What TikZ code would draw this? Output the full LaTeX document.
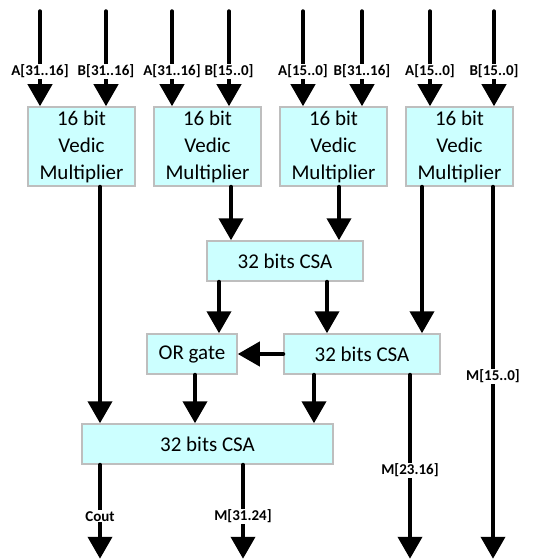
\documentclass[tikz,border=0pt]{standalone}
\usepackage{fontspec}
\setmainfont{Carlito}
\usepackage{xcolor}
\usetikzlibrary{arrows.meta}

\definecolor{boxfill}{RGB}{204,255,255}
\definecolor{boxline}{RGB}{190,190,190}

\begin{document}
\begin{tikzpicture}[
  x=1pt, y=-1pt,
  box/.style={draw=boxline, line width=1.5pt, fill=boxfill, align=center, inner sep=0pt,
              font=\fontsize{21}{27}\selectfont},
  vmul/.style={box, minimum width=107pt, minimum height=79pt},
  csa/.style={box, minimum width=156pt, minimum height=40pt},
  arr/.style={-{Triangle[width=24pt,length=22pt]}, line width=4pt, line cap=round},
  lbl/.style={fill=white, inner sep=1pt, font=\fontsize{15}{15}\selectfont\bfseries}]
\useasboundingbox (0,0) rectangle (540,559);

% multipliers (top row)
\node[vmul] (vm1) at (81.5,146.5) {16 bit\\Vedic\\Multiplier};
\node[vmul] (vm2) at (207.5,146.5) {16 bit\\Vedic\\Multiplier};
\node[vmul] (vm3) at (333.5,146.5) {16 bit\\Vedic\\Multiplier};
\node[vmul] (vm4) at (459.5,146.5) {16 bit\\Vedic\\Multiplier};

% adders
\node[csa] (csa1) at (285,261) {32 bits CSA};
\node[box, minimum width=90pt, minimum height=40pt] (orgate) at (192,354) {OR gate};
\node[csa] (csa2) at (362,354) {32 bits CSA};
\node[box, minimum width=251pt, minimum height=40pt] (csa3) at (207.5,444) {32 bits CSA};

% inputs
\coordinate (a1) at ([xshift=-41.5pt,yshift=95pt]vm1.north);
\coordinate (b1) at ([xshift=24.5pt,yshift=95pt]vm1.north);
\coordinate (a2) at ([xshift=-35.5pt,yshift=95pt]vm2.north);
\coordinate (b2) at ([xshift=21.5pt,yshift=95pt]vm2.north);
\coordinate (a3) at ([xshift=-30.5pt,yshift=95pt]vm3.north);
\coordinate (b3) at ([xshift=28.5pt,yshift=95pt]vm3.north);
\coordinate (a4) at ([xshift=-29.5pt,yshift=95pt]vm4.north);
\coordinate (b4) at ([xshift=34.5pt,yshift=95pt]vm4.north);

\draw[arr] (a1) -- node[lbl, pos=0.63]{A[31..16]} (a1 |- vm1.north);
\draw[arr] (b1) -- node[lbl, pos=0.63]{B[31..16]} (b1 |- vm1.north);
\draw[arr] (a2) -- node[lbl, pos=0.63]{A[31..16]} (a2 |- vm2.north);
\draw[arr] (b2) -- node[lbl, pos=0.63]{B[15..0]} (b2 |- vm2.north);
\draw[arr] (a3) -- node[lbl, pos=0.63]{A[15..0]} (a3 |- vm3.north);
\draw[arr] (b3) -- node[lbl, pos=0.63]{B[31..16]} (b3 |- vm3.north);
\draw[arr] (a4) -- node[lbl, pos=0.63]{A[15..0]} (a4 |- vm4.north);
\draw[arr] (b4) -- node[lbl, pos=0.63]{B[15..0]} (b4 |- vm4.north);

% outputs
\coordinate (m0) at ([xshift=33.5pt,yshift=-372pt]vm4.south);
\coordinate (m16) at ([xshift=48pt,yshift=-184pt]csa2.south);
\coordinate (cout) at ([xshift=-107.5pt,yshift=-94pt]csa3.south);
\coordinate (m24) at ([xshift=35.5pt,yshift=-94pt]csa3.south);

% edges
\draw[arr] ([xshift=18.5pt]vm1.south) -- ([xshift=18.5pt]vm1.south |- csa3.north);
\draw[arr] ([xshift=23.5pt]vm2.south) -- ([xshift=23.5pt]vm2.south |- csa1.north);
\draw[arr] ([xshift=5.5pt]vm3.south) -- ([xshift=5.5pt]vm3.south |- csa1.north);
\draw[arr] ([xshift=-37.5pt]vm4.south) -- ([xshift=-37.5pt]vm4.south |- csa2.north);
\draw[arr] ([xshift=-66pt]csa1.south) -- ([xshift=-66pt]csa1.south |- orgate.north);
\draw[arr] ([xshift=42pt]csa1.south) -- ([xshift=42pt]csa1.south |- csa2.north);
\draw[arr] (csa2.west) -- (orgate.east);
\draw[arr] ([xshift=3pt]orgate.south) -- ([xshift=3pt]orgate.south |- csa3.north);
\draw[arr] ([xshift=-48pt]csa2.south) -- ([xshift=-48pt]csa2.south |- csa3.north);
\draw[arr] (m0 |- vm4.south) -- node[lbl, pos=0.51]{M[15..0]} (m0);
\draw[arr] (m16 |- csa2.south) -- node[lbl, pos=0.52]{M[23.16]} (m16);
\draw[arr] (cout |- csa3.south) -- node[lbl, pos=0.55]{Cout} (cout);
\draw[arr] (m24 |- csa3.south) -- node[lbl, pos=0.55]{M[31.24]} (m24);
\end{tikzpicture}
\end{document}
